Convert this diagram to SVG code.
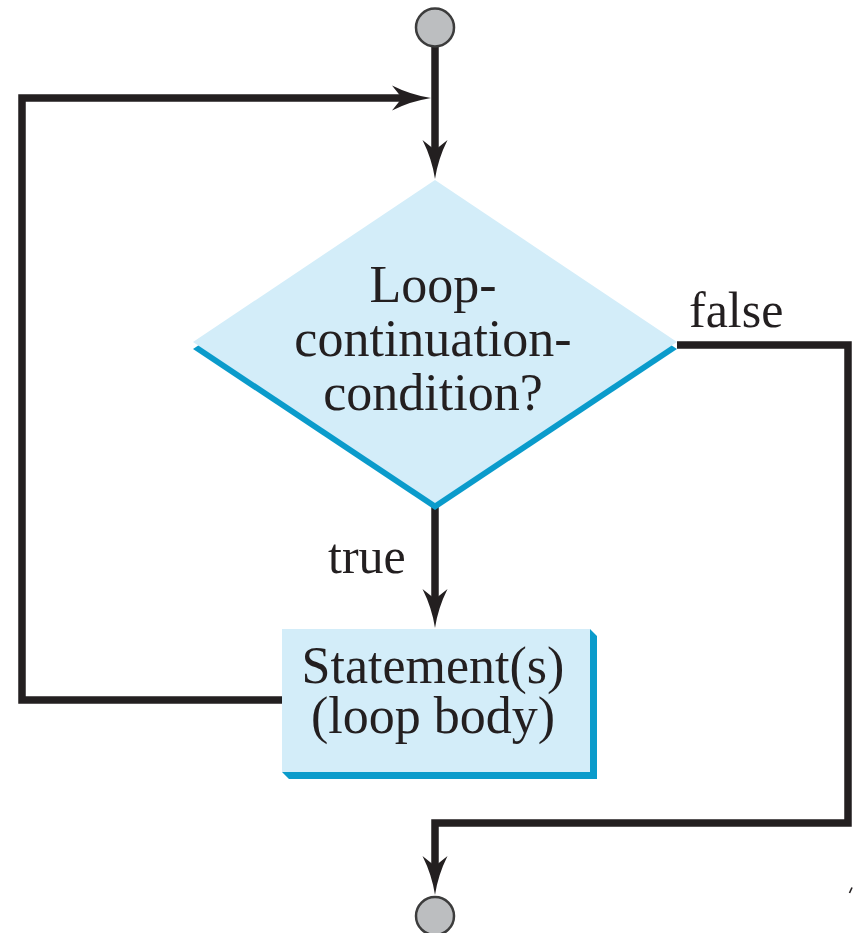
<svg xmlns="http://www.w3.org/2000/svg" width="853" height="933" viewBox="0 0 853 933">
  <style>
    .txt { font-family: "Liberation Serif", "Times New Roman", serif; fill: #231F20; }
    .node-text { font-size: 52px; text-anchor: middle; }
    .label { font-size: 50px; }
    .wire { fill: none; stroke: #231F20; stroke-width: 7.5; stroke-linejoin: miter; stroke-linecap: butt; }
    .terminal { fill: #BCBEC0; stroke: #3C3C3C; stroke-width: 2.5; }
    .face { fill: #D3EDF9; }
    .shade { fill: #0A9BCB; }
    .head { fill: #231F20; }
  </style>
  <defs>
    <!-- barbed arrowhead, tip at origin, pointing down -->
    <path id="arrowhead" d="M0,0 Q-3,-20 -12.5,-39 L0,-29 L12.5,-39 Q3,-20 0,0 Z"/>
  </defs>

  <!-- connectors -->
  <g id="connectors">
    <!-- start to decision -->
    <path class="wire" d="M435,46 L435,160"/>
    <use href="#arrowhead" class="head" transform="translate(435,179)"/>
    <!-- true branch to loop body -->
    <path class="wire" d="M435,505 L435,608"/>
    <use href="#arrowhead" class="head" transform="translate(435,628)"/>
    <!-- loop body back to decision -->
    <path class="wire" d="M282,700 L22,700 L22,98 L412,98"/>
    <use href="#arrowhead" class="head" transform="translate(431,98) rotate(-90)"/>
    <!-- false branch to end -->
    <path class="wire" d="M677,345 L848,345 L848,823 L435,823 L435,875"/>
    <use href="#arrowhead" class="head" transform="translate(435,895)"/>
  </g>

  <!-- start terminal -->
  <g id="start">
    <circle class="terminal" cx="435" cy="27.5" r="19"/>
  </g>

  <!-- decision -->
  <g id="decision">
    <polygon class="shade" points="435,187 677,349 435,510 193,349"/>
    <polygon class="face" points="435,180 677,342 435,503 193,342"/>
    <text class="txt node-text" x="433" y="302">Loop-</text>
    <text class="txt node-text" x="433" y="356">continuation-</text>
    <text class="txt node-text" x="433" y="410">condition?</text>
  </g>

  <!-- loop body -->
  <g id="body">
    <polygon class="shade" points="590,629 597,636 597,779 289,779 282,772 590,772"/>
    <rect class="face" x="282" y="629" width="308" height="143"/>
    <text class="txt node-text" x="433" y="683">Statement(s)</text>
    <text class="txt node-text" x="433" y="733">(loop body)</text>
  </g>

  <!-- end terminal -->
  <g id="end">
    <circle class="terminal" cx="435" cy="916" r="19"/>
  </g>

  <!-- branch labels -->
  <g id="labels">
    <text class="txt label" x="689" y="327">false</text>
    <text class="txt label" x="328" y="573">true</text>
  </g>

  <!-- small stray stroke at right edge -->
  <path d="M849.5,893 L852,887.5" stroke="#231F20" stroke-width="1.6" fill="none"/>
</svg>
